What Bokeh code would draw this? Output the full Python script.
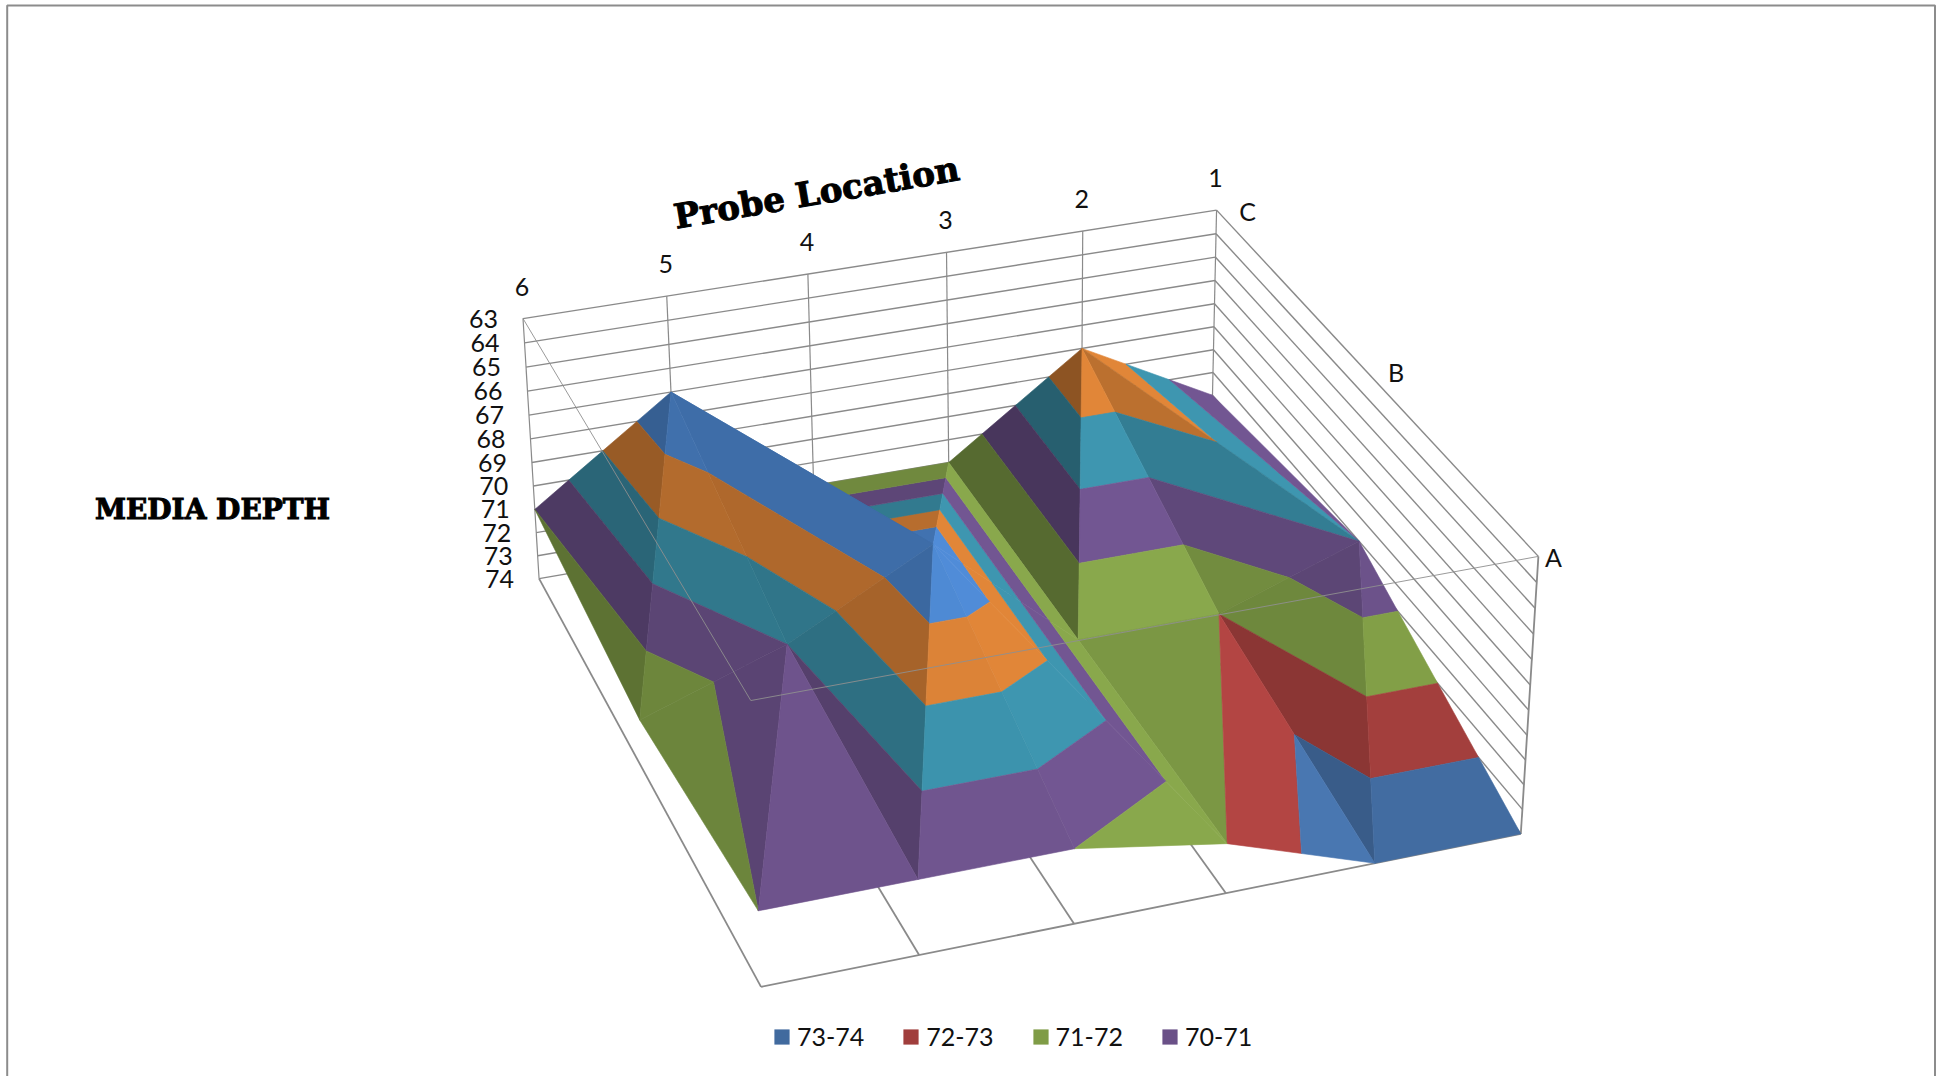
import numpy as np
from bokeh.plotting import figure
from bokeh.models import Range1d, Legend, LegendItem, ColumnDataSource
from bokeh.core.properties import value
from bokeh.embed import file_html
from bokeh.resources import INLINE

# ---- chart data ----
probe_labels = ["6", "5", "4", "3", "2", "1"]
row_labels = ["C", "B", "A"]
depth_ticks = list(range(63, 75))
depth_C = [71, 67, 72, 72, 68, 71]
depth_B = [72, 70, 67, 72, 72, 70]
depth_A = [71, 71, 71, 72, 74, 74]
legend_labels = ["73-74", "72-73", "71-72", "70-71"]

# ---- surface facets as Excel split them, with their lighting ----
facets = [
    ("6C", "5C", "6B", 0.73), ("5C", "5B", "6B", 0.86),
    ("6B", "5B", "6A", 0.85), ("5B", "5A", "6A", 1.04),
    ("5C", "4C", "4B", 0.85), ("5C", "5B", "4B", 0.84),
    ("5B", "5A", "4B", 0.80), ("5A", "4A", "4B", 1.06),
    ("4C", "3C", "4B", 0.88), ("3C", "3B", "4B", 1.08),
    ("4B", "3B", "3A", 1.08), ("4B", "4A", "3A", 1.08),
    ("3C", "3B", "2C", 0.68), ("3B", "2B", "2C", 1.08),
    ("3B", "2B", "3A", 0.97), ("3A", "2B", "2A", 1.12),
    ("2C", "2B", "1B", 0.90), ("2C", "1B", "1C", 1.08),
    ("2B", "2A", "1B", 0.87), ("2A", "1A", "1B", 1.02),
]
band_rgb = {73: (65, 106, 158), 72: (160, 62, 60), 71: (127, 156, 70), 70: (106, 80, 135),
            69: (57, 139, 163), 68: (208, 124, 52), 67: (74, 130, 200), 66: (160, 62, 60)}

# ---- camera: reference pixels of known (column, row, depth) points ----
calib = [
    (0, 0, 63, 522, 319), (5, 0, 63, 1215, 210), (5, 2, 63, 1538, 556), (0, 2, 63, 751, 701),
    (0, 0, 74, 538.5, 578), (0, 2, 74, 760, 990), (5, 2, 74, 1521, 833),
    (1, 2, 74, 918, 954), (2, 2, 74, 1074, 923), (3, 2, 74, 1225, 892), (4, 2, 74, 1372, 863),
    (1, 0, 63, 666, 296), (3, 0, 63, 946, 250), (0, 0, 71, 535, 509), (1, 0, 67, 670, 392),
    (4, 0, 68, 1081, 348), (5, 0, 71, 1211.5, 394), (0, 2, 71, 757, 909), (1, 2, 71, 917, 878),
    (2, 1, 67, 935, 542), (3, 2, 72, 1227, 842), (4, 1, 72, 1221, 617), (3, 1, 72, 1078, 639),
    (5, 1, 70, 1359, 541), (1, 1, 70, 786, 646), (0, 1, 72, 640, 716),
]
A = []
for X, Y, Z, u, v in calib:
    Zn = (Z - 63.0) / 11.0
    A.append([X, Y, Zn, 1, 0, 0, 0, 0, -u * X, -u * Y, -u * Zn, -u])
    A.append([0, 0, 0, 0, X, Y, Zn, 1, -v * X, -v * Y, -v * Zn, -v])
A = np.array(A, float)
scale = np.array([1, 1, 1, 1, 1, 1, 1, 1, 1000, 1000, 1000, 1000.0])
P = np.linalg.svd(A * scale)[2][-1] * scale
P = P.reshape(3, 4)


def proj(X, Y, Z):
    h = P @ np.array([X, Y, (Z - 63.0) / 11.0, 1.0])
    return h[0] / h[2], h[1] / h[2]


def depth_w(X, Y, Z):
    return abs((P @ np.array([X, Y, (Z - 63.0) / 11.0, 1.0]))[2])


grid = [depth_C, depth_B, depth_A]


def vertex(name):
    col = probe_labels.index(name[0])
    row = row_labels.index(name[1])
    return np.array([col, row, grid[row][col]], float)


def clip(poly, level, keep_above):
    out = []
    n = len(poly)
    for k in range(n):
        a, b = poly[k], poly[(k + 1) % n]
        da = a[2] - level if keep_above else level - a[2]
        db = b[2] - level if keep_above else level - b[2]
        if da >= 0:
            out.append(a)
        if (da > 0 and db < 0) or (da < 0 and db > 0):
            out.append(a + (b - a) * da / (da - db))
    return out


def area(poly):
    pts = np.array(poly)[:, :2]
    x, y = pts[:, 0], pts[:, 1]
    return abs(np.dot(x, np.roll(y, -1)) - np.dot(y, np.roll(x, -1))) / 2


order = sorted(facets, key=lambda f: -np.mean([depth_w(*vertex(n)) for n in f[:3]]))
xs, ys, fills = [], [], []
for a, b, c, shade in order:
    tri = [vertex(a), vertex(b), vertex(c)]
    for lo in sorted(band_rgb):
        hi = lo + 1
        poly = clip(clip(tri, lo, True), hi, False)
        if len(poly) < 3 or area(poly) < 1e-6:
            continue
        zs = [q[2] for q in poly]
        if max(zs) - min(zs) < 1e-9 and max(zs) != hi:
            continue
        pts = [proj(*q) for q in poly]
        xs.append([q[0] for q in pts])
        ys.append([q[1] for q in pts])
        r, g, bl = [min(255, int(round(ch * shade))) for ch in band_rgb[lo]]
        fills.append("#%02x%02x%02x" % (r, g, bl))

p = figure(width=1942, height=1076, x_range=Range1d(0, 1942), y_range=Range1d(1076, 0),
           toolbar_location=None, output_backend="svg", min_border=0,
           x_axis_location=None, y_axis_location=None)
p.grid.visible = False
p.outline_line_color = None
p.background_fill_color = "white"

GRID = "#8a8a8a"


def seg(a, b, width=1.4, color=GRID, alpha=1.0):
    pa, pb = proj(*a), proj(*b)
    p.line([pa[0], pb[0]], [pa[1], pb[1]], line_color=color, line_width=width, line_alpha=alpha)


# page frame of the chart
p.line([6.7, 6.7, 1934.5, 1934.5], [1076, 5, 5, 1076], line_color="#8c8c8c", line_width=2)

# back wall and right wall
for z in depth_ticks:
    seg((0, 0, z), (5, 0, z))
    seg((5, 0, z), (5, 2, z))
for c in range(6):
    seg((c, 0, 63), (c, 0, 74), 1.2)
seg((5, 2, 63), (5, 2, 74), 1.8)
# floor
for c in range(6):
    seg((c, 0, 74), (c, 2, 74), 1.8)
seg((0, 2, 74), (5, 2, 74), 1.8)

p.patches(xs, ys, fill_color=fills, line_color=fills, line_width=0.6)

# top plane edges run in front of the surface
seg((0, 0, 63), (0, 2, 63), 1.0, "#8f8f8f", 0.9)
seg((0, 2, 63), (5, 2, 63), 1.0, "#8f8f8f", 0.9)

font = value("Lato")
src = ColumnDataSource(dict(
    x=[proj(0, 0, z)[0] - 25 for z in depth_ticks],
    y=[proj(0, 0, z)[1] for z in depth_ticks],
    t=[str(z) for z in depth_ticks]))
p.text("x", "y", "t", source=src, text_font=font, text_font_size="25px", text_color="#111111",
       text_align="right", text_baseline="middle")
src = ColumnDataSource(dict(
    x=[proj(c, 0, 63)[0] - 1 for c in range(6)],
    y=[proj(c, 0, 63)[1] - 32 for c in range(6)],
    t=probe_labels))
p.text("x", "y", "t", source=src, text_font=font, text_font_size="25px", text_color="#111111",
       text_align="center", text_baseline="middle")
row_off = [31, 30, 15]
src = ColumnDataSource(dict(
    x=[proj(5, r, 63)[0] + row_off[r] for r in range(3)],
    y=[proj(5, r, 63)[1] + 1 for r in range(3)],
    t=row_labels))
p.text("x", "y", "t", source=src, text_font=font, text_font_size="25px", text_color="#111111",
       text_align="center", text_baseline="middle")

serif = value("DejaVu Serif")
p.text([816], [192], ["Probe Location"], text_font=serif, text_font_size="34px", text_font_style="bold",
       text_color="black", text_outline_color="black", angle=0.17, text_align="center", text_baseline="middle")
p.text([212], [509], ["MEDIA DEPTH"], text_font=serif, text_font_size="28px", text_font_style="bold",
       text_color="black", text_outline_color="black", text_align="center", text_baseline="middle")

nan = float("nan")
items = []
for lab, lo in zip(legend_labels, [73, 72, 71, 70]):
    r = p.quad(left=[nan], right=[nan], top=[nan], bottom=[nan],
               fill_color="#%02x%02x%02x" % band_rgb[lo], line_color=None)
    items.append(LegendItem(label=lab, renderers=[r]))
leg = Legend(items=items, orientation="horizontal", location=(772, 25), background_fill_alpha=0,
             border_line_color=None, glyph_width=19, glyph_height=19, label_standoff=6, spacing=37,
             padding=0, margin=0, label_text_font="Lato", label_text_font_size="25px",
             label_text_color="#111111")
p.add_layout(leg, "center")

open("out.html", "w").write(file_html(p, INLINE))
